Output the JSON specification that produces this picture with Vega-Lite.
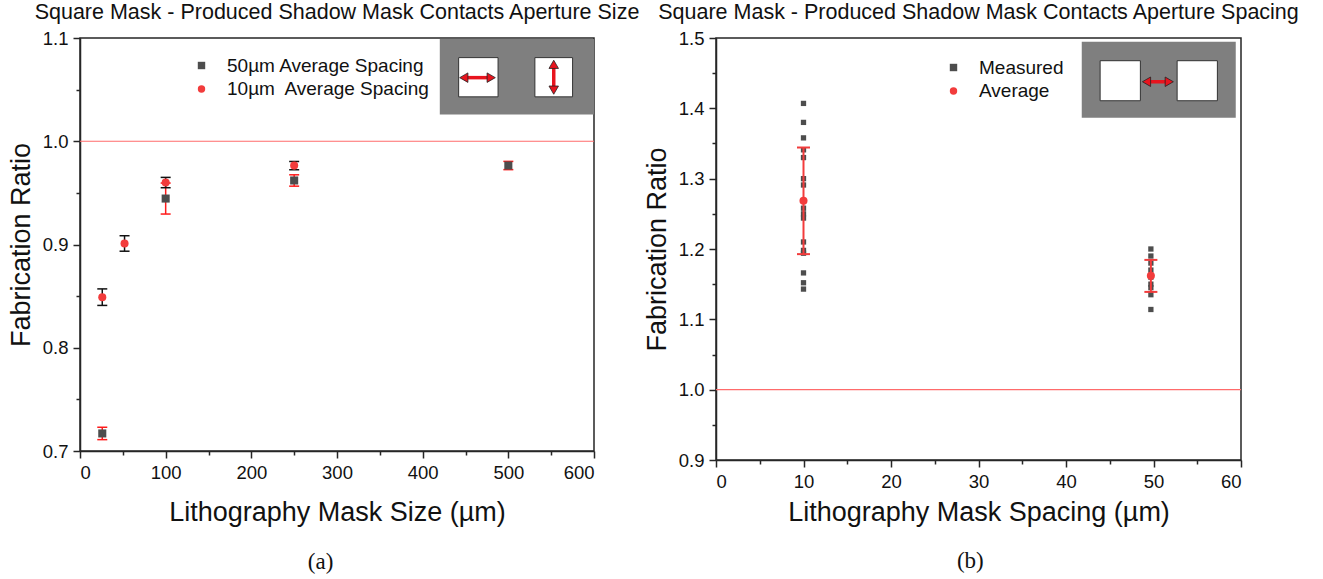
{
  "$schema": "https://vega.github.io/schema/vega-lite/v6.json",
  "background": "white",
  "padding": {"left": 6, "top": 0, "right": 5, "bottom": 5},
  "spacing": 1,
  "resolve": {"scale": {"color": "independent", "shape": "independent"}, "legend": {"color": "independent", "shape": "independent"}},
  "config": {
    "view": {"stroke": "#262626", "strokeWidth": 1.5},
    "font": "Liberation Sans",
    "axis": {"grid": false, "domainColor": "#262626", "domainWidth": 1.5, "tickColor": "#262626", "tickWidth": 1.5, "tickSize": 7, "labelFont": "Liberation Sans", "labelFontSize": 18.5, "labelColor": "#111", "labelPadding": 5, "titleFont": "Liberation Sans", "titleFontSize": 27, "titleFontWeight": "normal", "titleColor": "#111"},
    "title": {"font": "Liberation Sans", "fontSize": 21.5, "fontWeight": "normal", "color": "#111"},
    "legend": {"title": null, "labelFont": "Liberation Sans", "labelFontSize": 19, "labelColor": "#111", "labelLimit": 400, "symbolSize": 55, "labelOffset": 16, "rowPadding": 3.5, "padding": 0, "symbolStrokeWidth": 0}
  },
  "datasets": {
    "sizes": [
      {"series": "50µm Average Spacing", "size": 26, "ratio": 0.717, "lo": 0.711, "hi": 0.723},
      {"series": "50µm Average Spacing", "size": 100, "ratio": 0.9445, "lo": 0.9295, "hi": 0.9595},
      {"series": "50µm Average Spacing", "size": 250, "ratio": 0.962, "lo": 0.9565, "hi": 0.9675},
      {"series": "50µm Average Spacing", "size": 500, "ratio": 0.9765, "lo": 0.9725, "hi": 0.9805},
      {"series": "10µm\u00a0 Average Spacing", "size": 26, "ratio": 0.849, "lo": 0.841, "hi": 0.857},
      {"series": "10µm\u00a0 Average Spacing", "size": 52, "ratio": 0.901, "lo": 0.8935, "hi": 0.9085},
      {"series": "10µm\u00a0 Average Spacing", "size": 100, "ratio": 0.960, "lo": 0.955, "hi": 0.965},
      {"series": "10µm\u00a0 Average Spacing", "size": 250, "ratio": 0.9764, "lo": 0.9724, "hi": 0.9804}
    ],
    "insetA": [
      {"part": "frame", "x": 420, "x2": 600, "y": 1.026, "y2": 1.099},
      {"part": "hole", "x": 442, "x2": 488, "y": 1.043, "y2": 1.081},
      {"part": "hole", "x": 531, "x2": 575, "y": 1.043, "y2": 1.081}
    ],
    "shaftsA": [
      {"x": 451, "x2": 477, "y": 1.0616, "y2": 1.0616},
      {"x": 553, "x2": 553, "y": 1.052, "y2": 1.072}
    ],
    "headsA": [
      {"x": 448, "y": 1.0616, "rot": 180},
      {"x": 480, "y": 1.0616, "rot": 0},
      {"x": 553, "y": 1.0495, "rot": 90},
      {"x": 553, "y": 1.0745, "rot": 270}
    ],
    "spacing": [
      {"kind": "Measured", "gap": 10, "ratio": 1.407},
      {"kind": "Measured", "gap": 10, "ratio": 1.380},
      {"kind": "Measured", "gap": 10, "ratio": 1.358},
      {"kind": "Measured", "gap": 10, "ratio": 1.341},
      {"kind": "Measured", "gap": 10, "ratio": 1.330},
      {"kind": "Measured", "gap": 10, "ratio": 1.300},
      {"kind": "Measured", "gap": 10, "ratio": 1.291},
      {"kind": "Measured", "gap": 10, "ratio": 1.258},
      {"kind": "Measured", "gap": 10, "ratio": 1.250},
      {"kind": "Measured", "gap": 10, "ratio": 1.244},
      {"kind": "Measured", "gap": 10, "ratio": 1.210},
      {"kind": "Measured", "gap": 10, "ratio": 1.198},
      {"kind": "Measured", "gap": 10, "ratio": 1.194},
      {"kind": "Measured", "gap": 10, "ratio": 1.166},
      {"kind": "Measured", "gap": 10, "ratio": 1.152},
      {"kind": "Measured", "gap": 10, "ratio": 1.143},
      {"kind": "Measured", "gap": 49.7, "ratio": 1.200},
      {"kind": "Measured", "gap": 49.7, "ratio": 1.190},
      {"kind": "Measured", "gap": 49.7, "ratio": 1.180},
      {"kind": "Measured", "gap": 49.7, "ratio": 1.170},
      {"kind": "Measured", "gap": 49.7, "ratio": 1.160},
      {"kind": "Measured", "gap": 49.7, "ratio": 1.150},
      {"kind": "Measured", "gap": 49.7, "ratio": 1.145},
      {"kind": "Measured", "gap": 49.7, "ratio": 1.135},
      {"kind": "Measured", "gap": 49.7, "ratio": 1.114},
      {"kind": "Average", "gap": 10, "ratio": 1.2685, "lo": 1.1927, "hi": 1.3443},
      {"kind": "Average", "gap": 49.7, "ratio": 1.1618, "lo": 1.139, "hi": 1.1845}
    ],
    "insetB": [
      {"part": "frame", "x": 41.8, "x2": 59.4, "y": 1.3866, "y2": 1.4947},
      {"part": "hole", "x": 43.9, "x2": 48.5, "y": 1.4108, "y2": 1.4677},
      {"part": "hole", "x": 52.7, "x2": 57.3, "y": 1.4108, "y2": 1.4677}
    ],
    "shaftsB": [
      {"x": 49.3, "x2": 51.7, "y": 1.4378, "y2": 1.4378}
    ],
    "headsB": [
      {"x": 49.2, "y": 1.4378, "rot": 180},
      {"x": 51.8, "y": 1.4378, "rot": 0}
    ],
    "refline": [{"level": 1.0}]
  },
  "hconcat": [
    {
      "title": {"text": "(a)", "orient": "bottom", "font": "Liberation Serif", "fontSize": 23, "anchor": "middle", "frame": "bounds", "offset": 25, "dx": -3},
      "vconcat": [
        {
          "width": 514,
          "height": 413,
          "title": {"text": "Square Mask - Produced Shadow Mask Contacts Aperture Size", "offset": 6, "frame": "group"},
          "resolve": {"axis": {"x": "independent", "y": "independent"}},
          "layer": [
            {
              "data": {"name": "insetA"},
              "transform": [{"filter": "datum.part === 'frame'"}],
              "mark": {"type": "rect", "fill": "#7f7f7f"},
              "encoding": {"x": {"field": "x", "type": "quantitative", "axis": null}, "x2": {"field": "x2"}, "y": {"field": "y", "type": "quantitative", "axis": null}, "y2": {"field": "y2"}}
            },
            {
              "data": {"name": "insetA"},
              "transform": [{"filter": "datum.part === 'hole'"}],
              "mark": {"type": "rect", "fill": "white", "stroke": "#333", "strokeWidth": 1},
              "encoding": {"x": {"field": "x", "type": "quantitative", "axis": null}, "x2": {"field": "x2"}, "y": {"field": "y", "type": "quantitative", "axis": null}, "y2": {"field": "y2"}}
            },
            {
              "data": {"name": "shaftsA"},
              "mark": {"type": "rule", "color": "#e8141e", "strokeWidth": 3.5},
              "encoding": {"x": {"field": "x", "type": "quantitative", "axis": null}, "x2": {"field": "x2"}, "y": {"field": "y", "type": "quantitative", "axis": null}, "y2": {"field": "y2"}}
            },
            {
              "data": {"name": "headsA"},
              "mark": {"type": "point", "shape": "triangle-right", "filled": true, "fill": "#e8141e", "stroke": "#222", "strokeWidth": 0.8, "size": 90, "opacity": 1},
              "encoding": {"x": {"field": "x", "type": "quantitative", "axis": null}, "y": {"field": "y", "type": "quantitative", "axis": null}, "angle": {"field": "rot", "type": "quantitative", "scale": null}}
            },
            {
              "data": {"name": "refline"},
              "mark": {"type": "rule", "color": "#ff6b6b", "strokeWidth": 1.2},
              "encoding": {"y": {"field": "level", "type": "quantitative", "axis": null}}
            },
            {
              "data": {"name": "sizes"},
              "transform": [{"filter": "datum.series === '50µm Average Spacing'"}],
              "layer": [
                {"mark": {"type": "rule", "color": "#ff1a1a", "strokeWidth": 1.5}, "encoding": {"x": {"field": "size", "type": "quantitative", "axis": null}, "y": {"field": "lo", "type": "quantitative", "axis": null}, "y2": {"field": "hi"}}},
                {"mark": {"type": "tick", "orient": "horizontal", "color": "#ff1a1a", "size": 10, "thickness": 1.5, "opacity": 1}, "encoding": {"x": {"field": "size", "type": "quantitative", "axis": null}, "y": {"field": "lo", "type": "quantitative", "axis": null}}},
                {"mark": {"type": "tick", "orient": "horizontal", "color": "#ff1a1a", "size": 10, "thickness": 1.5, "opacity": 1}, "encoding": {"x": {"field": "size", "type": "quantitative", "axis": null}, "y": {"field": "hi", "type": "quantitative", "axis": null}}}
              ]
            },
            {
              "data": {"name": "sizes"},
              "transform": [{"filter": "datum.series !== '50µm Average Spacing'"}],
              "layer": [
                {"mark": {"type": "rule", "color": "#111", "strokeWidth": 1.5}, "encoding": {"x": {"field": "size", "type": "quantitative", "axis": null}, "y": {"field": "lo", "type": "quantitative", "axis": null}, "y2": {"field": "hi"}}},
                {"mark": {"type": "tick", "orient": "horizontal", "color": "#111", "size": 10, "thickness": 1.5, "opacity": 1}, "encoding": {"x": {"field": "size", "type": "quantitative", "axis": null}, "y": {"field": "lo", "type": "quantitative", "axis": null}}},
                {"mark": {"type": "tick", "orient": "horizontal", "color": "#111", "size": 10, "thickness": 1.5, "opacity": 1}, "encoding": {"x": {"field": "size", "type": "quantitative", "axis": null}, "y": {"field": "hi", "type": "quantitative", "axis": null}}}
              ]
            },
            {
              "data": {"name": "sizes"},
              "mark": {"type": "point", "filled": true, "size": 65, "opacity": 1},
              "encoding": {
                "x": {"field": "size", "type": "quantitative", "scale": {"domain": [0, 600], "nice": false, "zero": false}, "axis": {"orient": "bottom", "values": [0, 100, 200, 300, 400, 500, 600], "title": "Lithography Mask Size (µm)", "titlePadding": 18}},
                "y": {"field": "ratio", "type": "quantitative", "scale": {"domain": [0.7, 1.1], "nice": false, "zero": false}, "axis": {"orient": "left", "values": [0.7, 0.8, 0.9, 1.0, 1.1], "format": ".1f", "title": "Fabrication Ratio", "titlePadding": 7}},
                "color": {"field": "series", "type": "nominal", "scale": {"domain": ["50µm Average Spacing", "10µm\u00a0 Average Spacing"], "range": ["#4d4d4d", "#f23c3c"]}, "legend": {"orient": "none", "legendX": 112, "legendY": 18}},
                "shape": {"field": "series", "type": "nominal", "scale": {"domain": ["50µm Average Spacing", "10µm\u00a0 Average Spacing"], "range": ["square", "circle"]}, "legend": {"orient": "none", "legendX": 112, "legendY": 18}}
              }
            },
            {
              "data": {"name": "sizes"},
              "mark": {"type": "point", "opacity": 0},
              "encoding": {
                "x": {"field": "size", "type": "quantitative", "axis": {"orient": "bottom", "values": [50, 150, 250, 350, 450, 550], "labels": false, "domain": false, "tickSize": 4, "title": null}},
                "y": {"field": "ratio", "type": "quantitative", "axis": {"orient": "left", "values": [0.75, 0.85, 0.95, 1.05], "labels": false, "domain": false, "tickSize": 4, "title": null}}
              }
            }
          ]
        }
      ]
    },
    {
      "title": {"text": "(b)", "orient": "bottom", "font": "Liberation Serif", "fontSize": 23, "anchor": "middle", "frame": "bounds", "offset": 24, "dx": -1},
      "vconcat": [
        {
          "width": 525,
          "height": 422,
          "title": {"text": "Square Mask - Produced Shadow Mask Contacts Aperture Spacing", "offset": 6, "frame": "group"},
          "resolve": {"axis": {"x": "independent", "y": "independent"}},
          "layer": [
            {
              "data": {"name": "insetB"},
              "transform": [{"filter": "datum.part === 'frame'"}],
              "mark": {"type": "rect", "fill": "#7f7f7f"},
              "encoding": {"x": {"field": "x", "type": "quantitative", "axis": null}, "x2": {"field": "x2"}, "y": {"field": "y", "type": "quantitative", "axis": null}, "y2": {"field": "y2"}}
            },
            {
              "data": {"name": "insetB"},
              "transform": [{"filter": "datum.part === 'hole'"}],
              "mark": {"type": "rect", "fill": "white", "stroke": "#333", "strokeWidth": 1},
              "encoding": {"x": {"field": "x", "type": "quantitative", "axis": null}, "x2": {"field": "x2"}, "y": {"field": "y", "type": "quantitative", "axis": null}, "y2": {"field": "y2"}}
            },
            {
              "data": {"name": "shaftsB"},
              "mark": {"type": "rule", "color": "#e8141e", "strokeWidth": 3.5},
              "encoding": {"x": {"field": "x", "type": "quantitative", "axis": null}, "x2": {"field": "x2"}, "y": {"field": "y", "type": "quantitative", "axis": null}, "y2": {"field": "y2"}}
            },
            {
              "data": {"name": "headsB"},
              "mark": {"type": "point", "shape": "triangle-right", "filled": true, "fill": "#e8141e", "stroke": "#222", "strokeWidth": 0.8, "size": 90, "opacity": 1},
              "encoding": {"x": {"field": "x", "type": "quantitative", "axis": null}, "y": {"field": "y", "type": "quantitative", "axis": null}, "angle": {"field": "rot", "type": "quantitative", "scale": null}}
            },
            {
              "data": {"name": "refline"},
              "mark": {"type": "rule", "color": "#ff6b6b", "strokeWidth": 1.2},
              "encoding": {"y": {"field": "level", "type": "quantitative", "axis": null}}
            },
            {
              "data": {"name": "spacing"},
              "transform": [{"filter": "datum.kind === 'Measured'"}],
              "mark": {"type": "point", "filled": true, "size": 28, "shape": "square", "opacity": 1},
              "encoding": {
                "x": {"field": "gap", "type": "quantitative", "scale": {"domain": [0, 60], "nice": false, "zero": false}, "axis": {"orient": "bottom", "values": [0, 10, 20, 30, 40, 50, 60], "title": "Lithography Mask Spacing (µm)", "titlePadding": 9}},
                "y": {"field": "ratio", "type": "quantitative", "scale": {"domain": [0.9, 1.5], "nice": false, "zero": false}, "axis": {"orient": "left", "values": [0.9, 1.0, 1.1, 1.2, 1.3, 1.4, 1.5], "format": ".1f", "title": "Fabrication Ratio", "titlePadding": 7}},
                "color": {"field": "kind", "type": "nominal", "scale": {"domain": ["Measured", "Average"], "range": ["#4d4d4d", "#f23c3c"]}, "legend": {"orient": "none", "legendX": 228, "legendY": 20}},
                "shape": {"field": "kind", "type": "nominal", "scale": {"domain": ["Measured", "Average"], "range": ["square", "circle"]}, "legend": {"orient": "none", "legendX": 228, "legendY": 20}}
              }
            },
            {
              "data": {"name": "spacing"},
              "transform": [{"filter": "datum.kind === 'Average'"}],
              "layer": [
                {"mark": {"type": "rule", "color": "#f23c3c", "strokeWidth": 2}, "encoding": {"x": {"field": "gap", "type": "quantitative", "axis": null}, "y": {"field": "lo", "type": "quantitative", "axis": null}, "y2": {"field": "hi"}}},
                {"mark": {"type": "tick", "orient": "horizontal", "color": "#f23c3c", "size": 13, "thickness": 2, "opacity": 1}, "encoding": {"x": {"field": "gap", "type": "quantitative", "axis": null}, "y": {"field": "lo", "type": "quantitative", "axis": null}}},
                {"mark": {"type": "tick", "orient": "horizontal", "color": "#f23c3c", "size": 13, "thickness": 2, "opacity": 1}, "encoding": {"x": {"field": "gap", "type": "quantitative", "axis": null}, "y": {"field": "hi", "type": "quantitative", "axis": null}}},
                {"mark": {"type": "point", "filled": true, "size": 65, "opacity": 1}, "encoding": {"x": {"field": "gap", "type": "quantitative", "axis": null}, "y": {"field": "ratio", "type": "quantitative", "axis": null}, "color": {"field": "kind", "type": "nominal"}, "shape": {"field": "kind", "type": "nominal"}}}
              ]
            },
            {
              "data": {"name": "spacing"},
              "mark": {"type": "point", "opacity": 0},
              "encoding": {
                "x": {"field": "gap", "type": "quantitative", "axis": {"orient": "bottom", "values": [5, 15, 25, 35, 45, 55], "labels": false, "domain": false, "tickSize": 4, "title": null}},
                "y": {"field": "ratio", "type": "quantitative", "axis": {"orient": "left", "values": [0.95, 1.05, 1.15, 1.25, 1.35, 1.45], "labels": false, "domain": false, "tickSize": 4, "title": null}}
              }
            }
          ]
        }
      ]
    }
  ]
}
